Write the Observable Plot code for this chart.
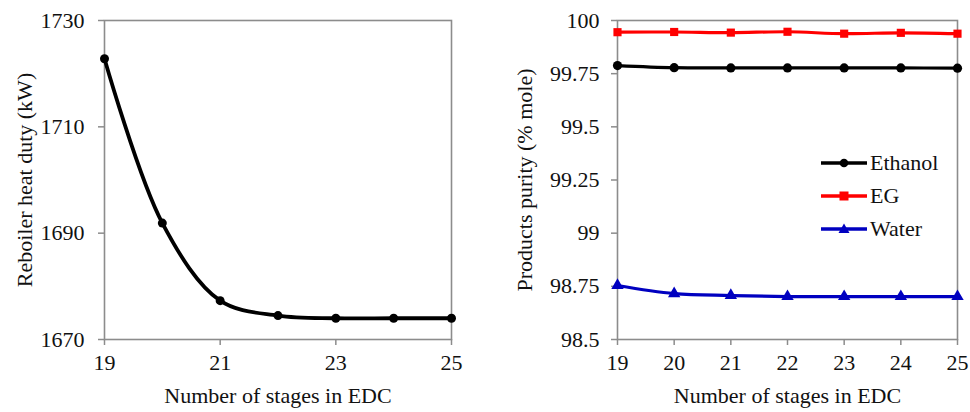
<!DOCTYPE html>
<html>
<head>
<meta charset="utf-8">
<script src="https://cdn.jsdelivr.net/npm/d3@7"></script>
<script src="https://cdn.jsdelivr.net/npm/@observablehq/plot@0.6"></script>
<style>
  html, body { margin: 0; padding: 0; background: #fff; }
  #wrap { position: relative; width: 970px; height: 412px; display: flex; font-family: "Liberation Serif", serif; }
  #legend { position: absolute; left: 820px; top: 146px; font-size: 22px; color: #111; line-height: 33px; }
  #legend div { display: flex; align-items: center; height: 33px; }
  #legend svg { margin-right: 2px; }
</style>
</head>
<body>
<div id="wrap">
  <div id="left"></div>
  <div id="right"></div>
  <div id="legend"></div>
</div>
<script>
// ---- Data ----
const stages = [19, 20, 21, 22, 23, 24, 25];
const reboilerDuty = [1722.8, 1691.9, 1677.3, 1674.5, 1674.0, 1674.0, 1674.0];

const seriesNames = ["Ethanol", "EG", "Water"];
const ethanolPurity = [99.788, 99.778, 99.777, 99.777, 99.777, 99.777, 99.776];
const egPurity = [99.945, 99.946, 99.943, 99.947, 99.938, 99.942, 99.938];
const waterPurity = [98.754, 98.716, 98.707, 98.702, 98.702, 98.702, 98.702];

const leftYTicks = [1670, 1690, 1710, 1730];
const leftXTicks = [19, 21, 23, 25];
const rightYTicks = [98.5, 98.75, 99, 99.25, 99.5, 99.75, 100];
const rightXTicks = [19, 20, 21, 22, 23, 24, 25];

const seriesColors = ["#000000", "#ff0000", "#0000c0"];
const seriesSymbols = ["circle", "square", "triangle"];

// ---- Build tables ----
const dutyRows = stages.map((s, i) => ({stage: s, duty: reboilerDuty[i]}));
const purityArrays = [ethanolPurity, egPurity, waterPurity];
const purityRows = seriesNames.flatMap((name, k) =>
  stages.map((s, i) => ({series: name, stage: s, purity: purityArrays[k][i]})));

const serif = "Liberation Serif";
const font = {fontFamily: serif, fontSize: "20px", color: "#111", background: "white", overflow: "visible"};
const gridGray = "#8c8c8c";
const fmt = d => String(d);

const left = Plot.plot({
  width: 485, height: 412,
  marginLeft: 104, marginRight: 34, marginTop: 20, marginBottom: 73,
  style: font,
  x: {domain: [19, 25]},
  y: {domain: [1670, 1730]},
  marks: [
    Plot.frame({stroke: gridGray, strokeWidth: 1.6}),
    Plot.axisX({ticks: leftXTicks, tickFormat: fmt, tickSize: 6, tickPadding: 9, stroke: gridGray, strokeWidth: 1.5, fill: "#111",
      label: "Number of stages in EDC", labelAnchor: "center", labelArrow: "none", labelOffset: 63, fontSize: 22}),
    Plot.axisY({ticks: leftYTicks, tickFormat: fmt, tickSize: 6, tickPadding: 14, stroke: gridGray, strokeWidth: 1.5, fill: "#111",
      label: "Reboiler heat duty (kW)", labelAnchor: "center", labelArrow: "none", labelOffset: 88, fontSize: 22}),
    Plot.line(dutyRows, {x: "stage", y: "duty", stroke: "#000", strokeWidth: 3.8, curve: "catmull-rom"}),
    Plot.dot(dutyRows, {x: "stage", y: "duty", fill: "#000", r: 4.5})
  ]
});

const right = Plot.plot({
  width: 485, height: 412,
  marginLeft: 132, marginRight: 13, marginTop: 20, marginBottom: 73,
  style: font,
  x: {domain: [19, 25]},
  y: {domain: [98.5, 100]},
  color: {domain: seriesNames, range: seriesColors},
  symbol: {domain: seriesNames, range: seriesSymbols},
  marks: [
    Plot.frame({stroke: gridGray, strokeWidth: 1.6}),
    Plot.axisX({ticks: rightXTicks, tickFormat: fmt, tickSize: 6, tickPadding: 9, stroke: gridGray, strokeWidth: 1.5, fill: "#111",
      label: "Number of stages in EDC", labelAnchor: "center", labelArrow: "none", labelOffset: 63, fontSize: 22}),
    Plot.axisY({ticks: rightYTicks, tickFormat: fmt, tickSize: 6, tickPadding: 12, stroke: gridGray, strokeWidth: 1.5, fill: "#111",
      label: "Products purity (% mole)", labelAnchor: "center", labelArrow: "none", labelOffset: 101, fontSize: 22}),
    Plot.line(purityRows, {x: "stage", y: "purity", z: "series", stroke: "series", strokeWidth: 3.2, curve: "catmull-rom"}),
    Plot.dot(purityRows, {x: "stage", y: "purity", fill: "series", symbol: "series", r: 4.6, stroke: "none"})
  ]
});

document.getElementById("left").appendChild(left);
document.getElementById("right").appendChild(right);

// ---- Legend (HTML overlay) ----
const legend = document.getElementById("legend");
const symPaths = {
  circle: c => `<circle cx="24" cy="8" r="4.3" fill="${c}"/>`,
  square: c => `<rect x="19.5" y="3.5" width="9" height="9" fill="${c}"/>`,
  triangle: c => `<path d="M24,2.5 L29.5,12 L18.5,12 Z" fill="${c}"/>`
};
seriesNames.forEach((name, k) => {
  const row = document.createElement("div");
  row.innerHTML = `<svg width="48" height="16"><line x1="1" y1="8" x2="47" y2="8" stroke="${seriesColors[k]}" stroke-width="3.4"/>${symPaths[seriesSymbols[k]](seriesColors[k])}</svg><span>${name}</span>`;
  legend.appendChild(row);
});
</script>
</body>
</html>
